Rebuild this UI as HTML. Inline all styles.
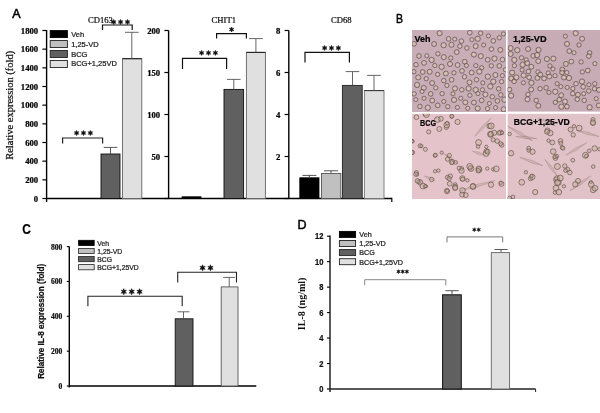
<!DOCTYPE html>
<html><head><meta charset="utf-8"><style>
html,body{margin:0;padding:0;background:#fff;width:600px;height:413px;overflow:hidden}
svg{display:block;filter:blur(0.3px)}
text{stroke:currentColor;stroke-width:0.22px}
</style></head><body>
<svg width="600" height="413" viewBox="0 0 600 413"><text x="12.3" y="18.2" font-family='"Liberation Sans", sans-serif' font-size="12.5" font-weight="normal" text-anchor="start" fill="#000" style="stroke-width:0.55px">A</text>
<line x1="46.6" y1="30.0" x2="46.6" y2="202.0" stroke="#000" stroke-width="1.4"/>
<line x1="42.4" y1="198.5" x2="46.6" y2="198.5" stroke="#000" stroke-width="1.2"/>
<text x="38.2" y="201.7" font-family='"Liberation Serif", serif' font-size="7.9" font-weight="bold" text-anchor="end" fill="#000" textLength="4.35" lengthAdjust="spacingAndGlyphs">0</text>
<line x1="42.4" y1="179.83333333333334" x2="46.6" y2="179.83333333333334" stroke="#000" stroke-width="1.2"/>
<text x="38.2" y="183.03333333333333" font-family='"Liberation Serif", serif' font-size="7.9" font-weight="bold" text-anchor="end" fill="#000" textLength="13.049999999999999" lengthAdjust="spacingAndGlyphs">200</text>
<line x1="42.4" y1="161.16666666666666" x2="46.6" y2="161.16666666666666" stroke="#000" stroke-width="1.2"/>
<text x="38.2" y="164.36666666666665" font-family='"Liberation Serif", serif' font-size="7.9" font-weight="bold" text-anchor="end" fill="#000" textLength="13.049999999999999" lengthAdjust="spacingAndGlyphs">400</text>
<line x1="42.4" y1="142.5" x2="46.6" y2="142.5" stroke="#000" stroke-width="1.2"/>
<text x="38.2" y="145.7" font-family='"Liberation Serif", serif' font-size="7.9" font-weight="bold" text-anchor="end" fill="#000" textLength="13.049999999999999" lengthAdjust="spacingAndGlyphs">600</text>
<line x1="42.4" y1="123.83333333333333" x2="46.6" y2="123.83333333333333" stroke="#000" stroke-width="1.2"/>
<text x="38.2" y="127.03333333333333" font-family='"Liberation Serif", serif' font-size="7.9" font-weight="bold" text-anchor="end" fill="#000" textLength="13.049999999999999" lengthAdjust="spacingAndGlyphs">800</text>
<line x1="42.4" y1="105.16666666666666" x2="46.6" y2="105.16666666666666" stroke="#000" stroke-width="1.2"/>
<text x="38.2" y="108.36666666666666" font-family='"Liberation Serif", serif' font-size="7.9" font-weight="bold" text-anchor="end" fill="#000" textLength="17.4" lengthAdjust="spacingAndGlyphs">1000</text>
<line x1="42.4" y1="86.5" x2="46.6" y2="86.5" stroke="#000" stroke-width="1.2"/>
<text x="38.2" y="89.7" font-family='"Liberation Serif", serif' font-size="7.9" font-weight="bold" text-anchor="end" fill="#000" textLength="17.4" lengthAdjust="spacingAndGlyphs">1200</text>
<line x1="42.4" y1="67.83333333333331" x2="46.6" y2="67.83333333333331" stroke="#000" stroke-width="1.2"/>
<text x="38.2" y="71.03333333333332" font-family='"Liberation Serif", serif' font-size="7.9" font-weight="bold" text-anchor="end" fill="#000" textLength="17.4" lengthAdjust="spacingAndGlyphs">1400</text>
<line x1="42.4" y1="49.16666666666666" x2="46.6" y2="49.16666666666666" stroke="#000" stroke-width="1.2"/>
<text x="38.2" y="52.36666666666666" font-family='"Liberation Serif", serif' font-size="7.9" font-weight="bold" text-anchor="end" fill="#000" textLength="17.4" lengthAdjust="spacingAndGlyphs">1600</text>
<line x1="42.4" y1="30.5" x2="46.6" y2="30.5" stroke="#000" stroke-width="1.2"/>
<text x="38.2" y="33.7" font-family='"Liberation Serif", serif' font-size="7.9" font-weight="bold" text-anchor="end" fill="#000" textLength="17.4" lengthAdjust="spacingAndGlyphs">1800</text>
<line x1="46.6" y1="198.5" x2="391.8" y2="198.5" stroke="#000" stroke-width="1.4"/>
<line x1="391.8" y1="197.8" x2="391.8" y2="202" stroke="#000" stroke-width="1.2"/>
<text transform="translate(12.9 159.8) rotate(-90)" font-family='"Liberation Serif", serif' font-size="11" fill="#111" textLength="109" lengthAdjust="spacingAndGlyphs">Relative expression (fold)</text>
<rect x="50.2" y="30.6" width="17.2" height="7.0" fill="#000" stroke="#000" stroke-width="0.9"/>
<text x="71.2" y="36.6" font-family='"Liberation Sans", sans-serif' font-size="7.5" font-weight="normal" text-anchor="start" fill="#333">Veh</text>
<rect x="50.2" y="40.55" width="17.2" height="7.0" fill="#c0c0c0" stroke="#222" stroke-width="0.9"/>
<text x="71.2" y="46.55" font-family='"Liberation Sans", sans-serif' font-size="7.5" font-weight="normal" text-anchor="start" fill="#333">1,25-VD</text>
<rect x="50.2" y="50.5" width="17.2" height="7.0" fill="#606060" stroke="#222" stroke-width="0.9"/>
<text x="71.2" y="56.5" font-family='"Liberation Sans", sans-serif' font-size="7.5" font-weight="normal" text-anchor="start" fill="#333">BCG</text>
<rect x="50.2" y="60.45" width="17.2" height="7.0" fill="#e0e0e0" stroke="#222" stroke-width="0.9"/>
<text x="71.2" y="66.45" font-family='"Liberation Sans", sans-serif' font-size="7.5" font-weight="normal" text-anchor="start" fill="#333">BCG+1,25VD</text>
<text x="100.5" y="22.7" font-family='"Liberation Serif", serif' font-size="8.6" font-weight="normal" text-anchor="middle" fill="#111">CD163</text>
<rect x="101" y="154" width="19" height="44.5" fill="#606060" stroke="#111" stroke-width="0.9"/>
<line x1="110.5" y1="154" x2="110.5" y2="147.4" stroke="#444" stroke-width="0.9"/>
<line x1="103.7" y1="147.4" x2="117.3" y2="147.4" stroke="#444" stroke-width="0.9"/>
<rect x="122.5" y="58.7" width="19.30000000000001" height="139.8" fill="#e0e0e0" stroke="#666" stroke-width="0.9"/>
<line x1="122.5" y1="58.7" x2="141.8" y2="58.7" stroke="#222" stroke-width="1.1"/>
<line x1="131.8" y1="58.7" x2="131.8" y2="32.3" stroke="#555" stroke-width="0.9"/>
<line x1="125.00000000000001" y1="32.3" x2="138.60000000000002" y2="32.3" stroke="#555" stroke-width="0.9"/>
<path d="M62.6 143.6 V138 H102.6 V143.6" fill="none" stroke="#222" stroke-width="1.2"/>
<polygon points="76.60,130.50 77.16,132.03 78.77,131.75 77.72,133.00 78.77,134.25 77.16,133.97 76.60,135.50 76.04,133.97 74.43,134.25 75.47,133.00 74.43,131.75 76.04,132.03" fill="#111" stroke="#111" stroke-width="0.65" stroke-linejoin="round"/>
<polygon points="83.50,130.50 84.06,132.03 85.67,131.75 84.62,133.00 85.67,134.25 84.06,133.97 83.50,135.50 82.94,133.97 81.33,134.25 82.38,133.00 81.33,131.75 82.94,132.03" fill="#111" stroke="#111" stroke-width="0.65" stroke-linejoin="round"/>
<polygon points="90.40,130.50 90.96,132.03 92.57,131.75 91.53,133.00 92.57,134.25 90.96,133.97 90.40,135.50 89.84,133.97 88.23,134.25 89.28,133.00 88.23,131.75 89.84,132.03" fill="#111" stroke="#111" stroke-width="0.65" stroke-linejoin="round"/>
<path d="M102.5 30 V25 H132.2 V30" fill="none" stroke="#111" stroke-width="1.2"/>
<polygon points="113.70,19.50 114.26,21.03 115.87,20.75 114.82,22.00 115.87,23.25 114.26,22.97 113.70,24.50 113.14,22.97 111.53,23.25 112.57,22.00 111.53,20.75 113.14,21.03" fill="#111" stroke="#111" stroke-width="0.65" stroke-linejoin="round"/>
<polygon points="120.60,19.50 121.16,21.03 122.77,20.75 121.72,22.00 122.77,23.25 121.16,22.97 120.60,24.50 120.04,22.97 118.43,23.25 119.47,22.00 118.43,20.75 120.04,21.03" fill="#111" stroke="#111" stroke-width="0.65" stroke-linejoin="round"/>
<polygon points="127.50,19.50 128.06,21.03 129.67,20.75 128.62,22.00 129.67,23.25 128.06,22.97 127.50,24.50 126.94,22.97 125.33,23.25 126.38,22.00 125.33,20.75 126.94,21.03" fill="#111" stroke="#111" stroke-width="0.65" stroke-linejoin="round"/>
<line x1="168.6" y1="30.5" x2="168.6" y2="198.5" stroke="#000" stroke-width="1.4"/>
<line x1="164.4" y1="198.5" x2="168.6" y2="198.5" stroke="#000" stroke-width="1.2"/>
<line x1="164.4" y1="156.5" x2="168.6" y2="156.5" stroke="#000" stroke-width="1.2"/>
<text x="160.2" y="159.7" font-family='"Liberation Serif", serif' font-size="7.9" font-weight="bold" text-anchor="end" fill="#000" textLength="8.7" lengthAdjust="spacingAndGlyphs">50</text>
<line x1="164.4" y1="114.5" x2="168.6" y2="114.5" stroke="#000" stroke-width="1.2"/>
<text x="160.2" y="117.7" font-family='"Liberation Serif", serif' font-size="7.9" font-weight="bold" text-anchor="end" fill="#000" textLength="13.049999999999999" lengthAdjust="spacingAndGlyphs">100</text>
<line x1="164.4" y1="72.5" x2="168.6" y2="72.5" stroke="#000" stroke-width="1.2"/>
<text x="160.2" y="75.7" font-family='"Liberation Serif", serif' font-size="7.9" font-weight="bold" text-anchor="end" fill="#000" textLength="13.049999999999999" lengthAdjust="spacingAndGlyphs">150</text>
<line x1="164.4" y1="30.5" x2="168.6" y2="30.5" stroke="#000" stroke-width="1.2"/>
<text x="160.2" y="33.7" font-family='"Liberation Serif", serif' font-size="7.9" font-weight="bold" text-anchor="end" fill="#000" textLength="13.049999999999999" lengthAdjust="spacingAndGlyphs">200</text>
<text x="223.8" y="23" font-family='"Liberation Serif", serif' font-size="8.6" font-weight="normal" text-anchor="middle" fill="#111">CHIT1</text>
<rect x="182" y="196.8" width="19" height="1.6999999999999886" fill="#000" stroke="#000" stroke-width="0.8"/>
<rect x="224" y="89.4" width="19.599999999999994" height="109.1" fill="#606060" stroke="#111" stroke-width="0.9"/>
<line x1="233.8" y1="89.4" x2="233.8" y2="79.4" stroke="#555" stroke-width="0.9"/>
<line x1="227.0" y1="79.4" x2="240.60000000000002" y2="79.4" stroke="#555" stroke-width="0.9"/>
<rect x="246.4" y="52.4" width="18.99999999999997" height="146.1" fill="#e0e0e0" stroke="#666" stroke-width="0.9"/>
<line x1="246.4" y1="52.4" x2="265.4" y2="52.4" stroke="#222" stroke-width="1.1"/>
<line x1="255.9" y1="52.4" x2="255.9" y2="38.6" stroke="#555" stroke-width="0.9"/>
<line x1="249.1" y1="38.6" x2="262.7" y2="38.6" stroke="#555" stroke-width="0.9"/>
<path d="M216.6 38.6 V33.6 H246.4 V38.6" fill="none" stroke="#111" stroke-width="1.2"/>
<polygon points="231.60,27.00 232.16,28.53 233.77,28.25 232.72,29.50 233.77,30.75 232.16,30.47 231.60,32.00 231.04,30.47 229.43,30.75 230.47,29.50 229.43,28.25 231.04,28.53" fill="#111" stroke="#111" stroke-width="0.65" stroke-linejoin="round"/>
<path d="M182.5 69 V58.4 H226.6 V69" fill="none" stroke="#111" stroke-width="1.2"/>
<polygon points="201.60,50.40 202.16,51.93 203.77,51.65 202.72,52.90 203.77,54.15 202.16,53.87 201.60,55.40 201.04,53.87 199.43,54.15 200.47,52.90 199.43,51.65 201.04,51.93" fill="#111" stroke="#111" stroke-width="0.65" stroke-linejoin="round"/>
<polygon points="208.50,50.40 209.06,51.93 210.67,51.65 209.62,52.90 210.67,54.15 209.06,53.87 208.50,55.40 207.94,53.87 206.33,54.15 207.38,52.90 206.33,51.65 207.94,51.93" fill="#111" stroke="#111" stroke-width="0.65" stroke-linejoin="round"/>
<polygon points="215.40,50.40 215.96,51.93 217.57,51.65 216.53,52.90 217.57,54.15 215.96,53.87 215.40,55.40 214.84,53.87 213.23,54.15 214.28,52.90 213.23,51.65 214.84,51.93" fill="#111" stroke="#111" stroke-width="0.65" stroke-linejoin="round"/>
<line x1="288.8" y1="30.5" x2="288.8" y2="198.5" stroke="#000" stroke-width="1.4"/>
<line x1="284.6" y1="198.5" x2="288.8" y2="198.5" stroke="#000" stroke-width="1.2"/>
<line x1="284.6" y1="156.5" x2="288.8" y2="156.5" stroke="#000" stroke-width="1.2"/>
<text x="280.4" y="159.7" font-family='"Liberation Serif", serif' font-size="7.9" font-weight="bold" text-anchor="end" fill="#000" textLength="4.35" lengthAdjust="spacingAndGlyphs">2</text>
<line x1="284.6" y1="114.5" x2="288.8" y2="114.5" stroke="#000" stroke-width="1.2"/>
<text x="280.4" y="117.7" font-family='"Liberation Serif", serif' font-size="7.9" font-weight="bold" text-anchor="end" fill="#000" textLength="4.35" lengthAdjust="spacingAndGlyphs">4</text>
<line x1="284.6" y1="72.5" x2="288.8" y2="72.5" stroke="#000" stroke-width="1.2"/>
<text x="280.4" y="75.7" font-family='"Liberation Serif", serif' font-size="7.9" font-weight="bold" text-anchor="end" fill="#000" textLength="4.35" lengthAdjust="spacingAndGlyphs">6</text>
<line x1="284.6" y1="30.5" x2="288.8" y2="30.5" stroke="#000" stroke-width="1.2"/>
<text x="280.4" y="33.7" font-family='"Liberation Serif", serif' font-size="7.9" font-weight="bold" text-anchor="end" fill="#000" textLength="4.35" lengthAdjust="spacingAndGlyphs">8</text>
<text x="341.3" y="23" font-family='"Liberation Serif", serif' font-size="8.6" font-weight="normal" text-anchor="middle" fill="#111">CD68</text>
<rect x="299.8" y="177.8" width="19.19999999999999" height="20.69999999999999" fill="#000" stroke="#000" stroke-width="0.8"/>
<line x1="309.4" y1="177.4" x2="309.4" y2="175.4" stroke="#444" stroke-width="0.9"/>
<line x1="302.4" y1="175.4" x2="316.4" y2="175.4" stroke="#444" stroke-width="0.9"/>
<rect x="321.5" y="173.5" width="19.30000000000001" height="25.0" fill="#c0c0c0" stroke="#555" stroke-width="0.9"/>
<line x1="331" y1="173" x2="331" y2="170.8" stroke="#444" stroke-width="0.9"/>
<line x1="324" y1="170.8" x2="338" y2="170.8" stroke="#444" stroke-width="0.9"/>
<rect x="342.4" y="85.4" width="19.80000000000001" height="113.1" fill="#606060" stroke="#222" stroke-width="0.9"/>
<line x1="352.5" y1="85.4" x2="352.5" y2="71.6" stroke="#555" stroke-width="0.9"/>
<line x1="345.7" y1="71.6" x2="359.3" y2="71.6" stroke="#555" stroke-width="0.9"/>
<rect x="364.4" y="90.6" width="19.600000000000023" height="107.9" fill="#e0e0e0" stroke="#777" stroke-width="0.9"/>
<line x1="364.4" y1="90.6" x2="384" y2="90.6" stroke="#333" stroke-width="1.0"/>
<line x1="374" y1="90.6" x2="374" y2="75.4" stroke="#555" stroke-width="0.9"/>
<line x1="367.2" y1="75.4" x2="380.8" y2="75.4" stroke="#555" stroke-width="0.9"/>
<path d="M305 62.6 V52.4 H349.4 V62.6" fill="none" stroke="#111" stroke-width="1.2"/>
<polygon points="324.60,45.50 325.16,47.03 326.77,46.75 325.73,48.00 326.77,49.25 325.16,48.97 324.60,50.50 324.04,48.97 322.43,49.25 323.48,48.00 322.43,46.75 324.04,47.03" fill="#111" stroke="#111" stroke-width="0.65" stroke-linejoin="round"/>
<polygon points="331.50,45.50 332.06,47.03 333.67,46.75 332.62,48.00 333.67,49.25 332.06,48.97 331.50,50.50 330.94,48.97 329.33,49.25 330.38,48.00 329.33,46.75 330.94,47.03" fill="#111" stroke="#111" stroke-width="0.65" stroke-linejoin="round"/>
<polygon points="338.40,45.50 338.96,47.03 340.57,46.75 339.52,48.00 340.57,49.25 338.96,48.97 338.40,50.50 337.84,48.97 336.23,49.25 337.27,48.00 336.23,46.75 337.84,47.03" fill="#111" stroke="#111" stroke-width="0.65" stroke-linejoin="round"/>
<text x="22.2" y="234.0" font-family='"Liberation Sans", sans-serif' font-size="14" font-weight="bold" text-anchor="start" fill="#000" textLength="8.6" lengthAdjust="spacingAndGlyphs">C</text>
<line x1="69.3" y1="246.5" x2="69.3" y2="387.5" stroke="#000" stroke-width="1.4"/>
<line x1="66.8" y1="386.0" x2="69.3" y2="386.0" stroke="#000" stroke-width="1.1"/>
<text x="62.4" y="388.9" font-family='"Liberation Serif", serif' font-size="8.4" font-weight="bold" text-anchor="end" fill="#111" textLength="3.8" lengthAdjust="spacingAndGlyphs">0</text>
<line x1="66.8" y1="351.15" x2="69.3" y2="351.15" stroke="#000" stroke-width="1.1"/>
<text x="62.4" y="354.04999999999995" font-family='"Liberation Serif", serif' font-size="8.4" font-weight="bold" text-anchor="end" fill="#111" textLength="11.399999999999999" lengthAdjust="spacingAndGlyphs">200</text>
<line x1="66.8" y1="316.3" x2="69.3" y2="316.3" stroke="#000" stroke-width="1.1"/>
<text x="62.4" y="319.2" font-family='"Liberation Serif", serif' font-size="8.4" font-weight="bold" text-anchor="end" fill="#111" textLength="11.399999999999999" lengthAdjust="spacingAndGlyphs">400</text>
<line x1="66.8" y1="281.45" x2="69.3" y2="281.45" stroke="#000" stroke-width="1.1"/>
<text x="62.4" y="284.34999999999997" font-family='"Liberation Serif", serif' font-size="8.4" font-weight="bold" text-anchor="end" fill="#111" textLength="11.399999999999999" lengthAdjust="spacingAndGlyphs">600</text>
<line x1="66.8" y1="246.6" x2="69.3" y2="246.6" stroke="#000" stroke-width="1.1"/>
<text x="62.4" y="249.5" font-family='"Liberation Serif", serif' font-size="8.4" font-weight="bold" text-anchor="end" fill="#111" textLength="11.399999999999999" lengthAdjust="spacingAndGlyphs">800</text>
<line x1="69.3" y1="386.0" x2="256.3" y2="386.0" stroke="#000" stroke-width="1.4"/>
<text transform="translate(44.0 378.8) rotate(-90)" font-family='"Liberation Sans", sans-serif' font-size="9.4" font-weight="bold" fill="#111" textLength="115" lengthAdjust="spacingAndGlyphs">Relative  IL-8 expression (fold)</text>
<rect x="78.6" y="240.29999999999998" width="15.6" height="5.2" fill="#000" stroke="#000" stroke-width="0.8"/>
<text x="97.3" y="245.6" font-family='"Liberation Sans", sans-serif' font-size="6.8" font-weight="normal" text-anchor="start" fill="#333">Veh</text>
<rect x="78.6" y="248.39999999999998" width="15.6" height="5.2" fill="#c0c0c0" stroke="#222" stroke-width="0.8"/>
<text x="97.3" y="253.7" font-family='"Liberation Sans", sans-serif' font-size="6.8" font-weight="normal" text-anchor="start" fill="#333">1,25-VD</text>
<rect x="78.6" y="256.5" width="15.6" height="5.2" fill="#606060" stroke="#222" stroke-width="0.8"/>
<text x="97.3" y="261.79999999999995" font-family='"Liberation Sans", sans-serif' font-size="6.8" font-weight="normal" text-anchor="start" fill="#333">BCG</text>
<rect x="78.6" y="264.6" width="15.6" height="5.2" fill="#e0e0e0" stroke="#222" stroke-width="0.8"/>
<text x="97.3" y="269.9" font-family='"Liberation Sans", sans-serif' font-size="6.8" font-weight="normal" text-anchor="start" fill="#333">BCG+1,25VD</text>
<rect x="175.2" y="318.8" width="17.80000000000001" height="67.19999999999999" fill="#606060" stroke="#111" stroke-width="0.9"/>
<line x1="183.5" y1="318.8" x2="183.5" y2="311.8" stroke="#555" stroke-width="0.9"/>
<line x1="177.5" y1="311.8" x2="189.5" y2="311.8" stroke="#555" stroke-width="0.9"/>
<rect x="221.2" y="286.9" width="16.80000000000001" height="99.10000000000002" fill="#e0e0e0" stroke="#555" stroke-width="0.9"/>
<line x1="229.2" y1="286.9" x2="229.2" y2="277.4" stroke="#555" stroke-width="0.9"/>
<line x1="223.2" y1="277.4" x2="235.2" y2="277.4" stroke="#555" stroke-width="0.9"/>
<path d="M87.9 306.2 V296.3 H182.2 V306.2" fill="none" stroke="#222" stroke-width="1.1"/>
<polygon points="123.80,288.70 124.47,290.53 126.40,290.20 125.15,291.70 126.40,293.20 124.47,292.87 123.80,294.70 123.12,292.87 121.20,293.20 122.45,291.70 121.20,290.20 123.12,290.53" fill="#111" stroke="#111" stroke-width="0.65" stroke-linejoin="round"/>
<polygon points="131.70,288.70 132.38,290.53 134.30,290.20 133.05,291.70 134.30,293.20 132.38,292.87 131.70,294.70 131.02,292.87 129.10,293.20 130.35,291.70 129.10,290.20 131.02,290.53" fill="#111" stroke="#111" stroke-width="0.65" stroke-linejoin="round"/>
<polygon points="139.60,288.70 140.28,290.53 142.20,290.20 140.95,291.70 142.20,293.20 140.28,292.87 139.60,294.70 138.92,292.87 137.00,293.20 138.25,291.70 137.00,290.20 138.92,290.53" fill="#111" stroke="#111" stroke-width="0.65" stroke-linejoin="round"/>
<path d="M177.7 282.5 V272.3 H236.5 V282.5" fill="none" stroke="#222" stroke-width="1.1"/>
<polygon points="202.55,264.80 203.23,266.63 205.15,266.30 203.90,267.80 205.15,269.30 203.23,268.97 202.55,270.80 201.88,268.97 199.95,269.30 201.20,267.80 199.95,266.30 201.88,266.63" fill="#111" stroke="#111" stroke-width="0.65" stroke-linejoin="round"/>
<polygon points="210.45,264.80 211.12,266.63 213.05,266.30 211.80,267.80 213.05,269.30 211.12,268.97 210.45,270.80 209.77,268.97 207.85,269.30 209.10,267.80 207.85,266.30 209.77,266.63" fill="#111" stroke="#111" stroke-width="0.65" stroke-linejoin="round"/>
<text x="297.5" y="229.0" font-family='"Liberation Sans", sans-serif' font-size="12.5" font-weight="normal" text-anchor="start" fill="#000" style="stroke-width:0.5px">D</text>
<line x1="330.0" y1="235.6" x2="330.0" y2="392.0" stroke="#000" stroke-width="1.3"/>
<line x1="327.0" y1="389.0" x2="330.0" y2="389.0" stroke="#000" stroke-width="1.1"/>
<text x="323.4" y="392.2" font-family='"Liberation Sans", sans-serif' font-size="8.8" font-weight="bold" text-anchor="end" fill="#111" textLength="4.2" lengthAdjust="spacingAndGlyphs">0</text>
<line x1="327.0" y1="363.53" x2="330.0" y2="363.53" stroke="#000" stroke-width="1.1"/>
<text x="323.4" y="366.72999999999996" font-family='"Liberation Sans", sans-serif' font-size="8.8" font-weight="bold" text-anchor="end" fill="#111" textLength="4.2" lengthAdjust="spacingAndGlyphs">2</text>
<line x1="327.0" y1="338.06" x2="330.0" y2="338.06" stroke="#000" stroke-width="1.1"/>
<text x="323.4" y="341.26" font-family='"Liberation Sans", sans-serif' font-size="8.8" font-weight="bold" text-anchor="end" fill="#111" textLength="4.2" lengthAdjust="spacingAndGlyphs">4</text>
<line x1="327.0" y1="312.59000000000003" x2="330.0" y2="312.59000000000003" stroke="#000" stroke-width="1.1"/>
<text x="323.4" y="315.79" font-family='"Liberation Sans", sans-serif' font-size="8.8" font-weight="bold" text-anchor="end" fill="#111" textLength="4.2" lengthAdjust="spacingAndGlyphs">6</text>
<line x1="327.0" y1="287.12" x2="330.0" y2="287.12" stroke="#000" stroke-width="1.1"/>
<text x="323.4" y="290.32" font-family='"Liberation Sans", sans-serif' font-size="8.8" font-weight="bold" text-anchor="end" fill="#111" textLength="4.2" lengthAdjust="spacingAndGlyphs">8</text>
<line x1="327.0" y1="261.65" x2="330.0" y2="261.65" stroke="#000" stroke-width="1.1"/>
<text x="323.4" y="264.84999999999997" font-family='"Liberation Sans", sans-serif' font-size="8.8" font-weight="bold" text-anchor="end" fill="#111" textLength="8.4" lengthAdjust="spacingAndGlyphs">10</text>
<line x1="327.0" y1="236.18" x2="330.0" y2="236.18" stroke="#000" stroke-width="1.1"/>
<text x="323.4" y="239.38" font-family='"Liberation Sans", sans-serif' font-size="8.8" font-weight="bold" text-anchor="end" fill="#111" textLength="8.4" lengthAdjust="spacingAndGlyphs">12</text>
<line x1="330.0" y1="389.0" x2="535.6" y2="389.0" stroke="#222" stroke-width="1.3"/>
<line x1="535.6" y1="389.0" x2="535.6" y2="392" stroke="#222" stroke-width="1"/>
<text transform="translate(304.7 330.2) rotate(-90)" font-family='"Liberation Serif", serif' font-size="9.4" font-weight="bold" fill="#111" style="stroke-width:0" textLength="52.6" lengthAdjust="spacingAndGlyphs">IL-8 (ng/ml)</text>
<rect x="339.4" y="231.39999999999998" width="16.2" height="6.0" fill="#000" stroke="#000" stroke-width="0.9"/>
<text x="359.3" y="237.2" font-family='"Liberation Sans", sans-serif' font-size="7.2" font-weight="normal" text-anchor="start" fill="#333">Veh</text>
<rect x="339.4" y="240.49999999999997" width="16.2" height="6.0" fill="#c0c0c0" stroke="#222" stroke-width="0.9"/>
<text x="359.3" y="246.29999999999998" font-family='"Liberation Sans", sans-serif' font-size="7.2" font-weight="normal" text-anchor="start" fill="#333">1,25-VD</text>
<rect x="339.4" y="249.59999999999997" width="16.2" height="6.0" fill="#606060" stroke="#222" stroke-width="0.9"/>
<text x="359.3" y="255.39999999999998" font-family='"Liberation Sans", sans-serif' font-size="7.2" font-weight="normal" text-anchor="start" fill="#333">BCG</text>
<rect x="339.4" y="258.7" width="16.2" height="6.0" fill="#e0e0e0" stroke="#222" stroke-width="0.9"/>
<text x="359.3" y="264.5" font-family='"Liberation Sans", sans-serif' font-size="7.2" font-weight="normal" text-anchor="start" fill="#333">BCG+1,25VD</text>
<rect x="442.6" y="294.8" width="18.69999999999999" height="94.19999999999999" fill="#606060" stroke="#111" stroke-width="1"/>
<line x1="452" y1="294.2" x2="452" y2="290.7" stroke="#444" stroke-width="0.9"/>
<line x1="445.4" y1="290.7" x2="458.6" y2="290.7" stroke="#444" stroke-width="0.9"/>
<rect x="491.3" y="252.6" width="18.30000000000001" height="136.4" fill="#e0e0e0" stroke="#666" stroke-width="0.9"/>
<line x1="501" y1="252" x2="501" y2="249.5" stroke="#444" stroke-width="0.9"/>
<line x1="494.5" y1="249.5" x2="507.5" y2="249.5" stroke="#444" stroke-width="0.9"/>
<path d="M364.7 285.3 V279.7 H445.8 V285.3" fill="none" stroke="#888" stroke-width="1"/>
<polygon points="398.50,269.60 398.95,270.82 400.23,270.60 399.40,271.60 400.23,272.60 398.95,272.38 398.50,273.60 398.05,272.38 396.77,272.60 397.60,271.60 396.77,270.60 398.05,270.82" fill="#111" stroke="#111" stroke-width="0.50" stroke-linejoin="round"/>
<polygon points="402.70,269.60 403.15,270.82 404.43,270.60 403.60,271.60 404.43,272.60 403.15,272.38 402.70,273.60 402.25,272.38 400.97,272.60 401.80,271.60 400.97,270.60 402.25,270.82" fill="#111" stroke="#111" stroke-width="0.50" stroke-linejoin="round"/>
<polygon points="406.90,269.60 407.35,270.82 408.63,270.60 407.80,271.60 408.63,272.60 407.35,272.38 406.90,273.60 406.45,272.38 405.17,272.60 406.00,271.60 405.17,270.60 406.45,270.82" fill="#111" stroke="#111" stroke-width="0.50" stroke-linejoin="round"/>
<path d="M447 242.3 V236.9 H502.7 V242.3" fill="none" stroke="#777" stroke-width="1"/>
<polygon points="474.30,227.70 474.75,228.92 476.03,228.70 475.20,229.70 476.03,230.70 474.75,230.48 474.30,231.70 473.85,230.48 472.57,230.70 473.40,229.70 472.57,228.70 473.85,228.92" fill="#111" stroke="#111" stroke-width="0.50" stroke-linejoin="round"/>
<polygon points="478.70,227.70 479.15,228.92 480.43,228.70 479.60,229.70 480.43,230.70 479.15,230.48 478.70,231.70 478.25,230.48 476.97,230.70 477.80,229.70 476.97,228.70 478.25,228.92" fill="#111" stroke="#111" stroke-width="0.50" stroke-linejoin="round"/>
<text x="396.0" y="23" font-family='"Liberation Sans", sans-serif' font-size="13" font-weight="normal" text-anchor="start" fill="#000" textLength="7" lengthAdjust="spacingAndGlyphs" style="stroke-width:0.5px">B</text>
<defs><filter id="blur" x="-5%" y="-5%" width="110%" height="110%"><feGaussianBlur stdDeviation="0.6"/></filter><radialGradient id="cellg"><stop offset="0" stop-color="#e4d6b6" stop-opacity="0.85"/><stop offset="0.55" stop-color="#d2c0a8" stop-opacity="0.55"/><stop offset="1" stop-color="#9a8088" stop-opacity="0.3"/></radialGradient></defs>
<clipPath id="c1"><rect x="412" y="30" width="94" height="82"/></clipPath>
<g clip-path="url(#c1)">
<rect x="412" y="30" width="94" height="82" fill="#c9aeb7"/>
<g filter="url(#blur)">
<circle cx="439.6" cy="33.2" r="2.6" fill="url(#cellg)" stroke="#5a4848" stroke-opacity="0.6" stroke-width="1.0"/>
<circle cx="448.6" cy="38.9" r="2.4" fill="url(#cellg)" stroke="#5a4848" stroke-opacity="0.6" stroke-width="1.0"/>
<circle cx="454.8" cy="39.1" r="2.1" fill="url(#cellg)" stroke="#5a4848" stroke-opacity="0.6" stroke-width="1.0"/>
<circle cx="461.4" cy="41.1" r="2.4" fill="url(#cellg)" stroke="#5a4848" stroke-opacity="0.6" stroke-width="1.0"/>
<circle cx="469.8" cy="32.7" r="2.4" fill="url(#cellg)" stroke="#5a4848" stroke-opacity="0.6" stroke-width="1.0"/>
<circle cx="477.7" cy="38.8" r="2.7" fill="url(#cellg)" stroke="#5a4848" stroke-opacity="0.6" stroke-width="1.0"/>
<circle cx="471.9" cy="39.7" r="2.1" fill="url(#cellg)" stroke="#5a4848" stroke-opacity="0.6" stroke-width="1.0"/>
<circle cx="480.6" cy="33.2" r="2.3" fill="url(#cellg)" stroke="#5a4848" stroke-opacity="0.6" stroke-width="1.0"/>
<circle cx="488.4" cy="35.9" r="2.1" fill="url(#cellg)" stroke="#5a4848" stroke-opacity="0.6" stroke-width="1.0"/>
<circle cx="493.3" cy="40.9" r="2.4" fill="url(#cellg)" stroke="#5a4848" stroke-opacity="0.6" stroke-width="1.0"/>
<circle cx="499.3" cy="37.8" r="2.2" fill="url(#cellg)" stroke="#5a4848" stroke-opacity="0.6" stroke-width="1.0"/>
<circle cx="503.4" cy="33.9" r="2.1" fill="url(#cellg)" stroke="#5a4848" stroke-opacity="0.6" stroke-width="1.0"/>
<circle cx="434.1" cy="44.0" r="2.5" fill="url(#cellg)" stroke="#5a4848" stroke-opacity="0.6" stroke-width="1.0"/>
<circle cx="443.6" cy="45.2" r="2.7" fill="url(#cellg)" stroke="#5a4848" stroke-opacity="0.6" stroke-width="1.0"/>
<circle cx="451.5" cy="44.8" r="2.6" fill="url(#cellg)" stroke="#5a4848" stroke-opacity="0.6" stroke-width="1.0"/>
<circle cx="459.8" cy="46.2" r="2.3" fill="url(#cellg)" stroke="#5a4848" stroke-opacity="0.6" stroke-width="1.0"/>
<circle cx="466.9" cy="48.0" r="2.3" fill="url(#cellg)" stroke="#5a4848" stroke-opacity="0.6" stroke-width="1.0"/>
<circle cx="475.7" cy="46.1" r="2.6" fill="url(#cellg)" stroke="#5a4848" stroke-opacity="0.6" stroke-width="1.0"/>
<circle cx="483.6" cy="45.0" r="2.1" fill="url(#cellg)" stroke="#5a4848" stroke-opacity="0.6" stroke-width="1.0"/>
<circle cx="491.4" cy="49.1" r="2.3" fill="url(#cellg)" stroke="#5a4848" stroke-opacity="0.6" stroke-width="1.0"/>
<circle cx="500.3" cy="49.9" r="2.5" fill="url(#cellg)" stroke="#5a4848" stroke-opacity="0.6" stroke-width="1.0"/>
<circle cx="414.1" cy="43.8" r="2.4" fill="url(#cellg)" stroke="#5a4848" stroke-opacity="0.6" stroke-width="1.0"/>
<circle cx="419.0" cy="56.0" r="2.4" fill="url(#cellg)" stroke="#5a4848" stroke-opacity="0.6" stroke-width="1.0"/>
<circle cx="426.8" cy="55.8" r="2.1" fill="url(#cellg)" stroke="#5a4848" stroke-opacity="0.6" stroke-width="1.0"/>
<circle cx="431.6" cy="59.9" r="2.7" fill="url(#cellg)" stroke="#5a4848" stroke-opacity="0.6" stroke-width="1.0"/>
<circle cx="437.9" cy="53.8" r="2.2" fill="url(#cellg)" stroke="#5a4848" stroke-opacity="0.6" stroke-width="1.0"/>
<circle cx="443.8" cy="57.1" r="2.6" fill="url(#cellg)" stroke="#5a4848" stroke-opacity="0.6" stroke-width="1.0"/>
<circle cx="450.8" cy="58.0" r="2.2" fill="url(#cellg)" stroke="#5a4848" stroke-opacity="0.6" stroke-width="1.0"/>
<circle cx="456.7" cy="52.1" r="2.5" fill="url(#cellg)" stroke="#5a4848" stroke-opacity="0.6" stroke-width="1.0"/>
<circle cx="464.7" cy="61.7" r="2.4" fill="url(#cellg)" stroke="#5a4848" stroke-opacity="0.6" stroke-width="1.0"/>
<circle cx="473.9" cy="54.6" r="2.6" fill="url(#cellg)" stroke="#5a4848" stroke-opacity="0.6" stroke-width="1.0"/>
<circle cx="480.8" cy="56.1" r="2.6" fill="url(#cellg)" stroke="#5a4848" stroke-opacity="0.6" stroke-width="1.0"/>
<circle cx="487.7" cy="59.8" r="2.4" fill="url(#cellg)" stroke="#5a4848" stroke-opacity="0.6" stroke-width="1.0"/>
<circle cx="494.5" cy="58.6" r="2.7" fill="url(#cellg)" stroke="#5a4848" stroke-opacity="0.6" stroke-width="1.0"/>
<circle cx="502.5" cy="59.6" r="2.4" fill="url(#cellg)" stroke="#5a4848" stroke-opacity="0.6" stroke-width="1.0"/>
<circle cx="416.0" cy="64.7" r="2.3" fill="url(#cellg)" stroke="#5a4848" stroke-opacity="0.6" stroke-width="1.0"/>
<circle cx="424.0" cy="62.9" r="2.5" fill="url(#cellg)" stroke="#5a4848" stroke-opacity="0.6" stroke-width="1.0"/>
<circle cx="434.8" cy="65.5" r="2.2" fill="url(#cellg)" stroke="#5a4848" stroke-opacity="0.6" stroke-width="1.0"/>
<circle cx="441.6" cy="66.8" r="2.7" fill="url(#cellg)" stroke="#5a4848" stroke-opacity="0.6" stroke-width="1.0"/>
<circle cx="450.0" cy="64.0" r="2.6" fill="url(#cellg)" stroke="#5a4848" stroke-opacity="0.6" stroke-width="1.0"/>
<circle cx="457.6" cy="65.0" r="2.5" fill="url(#cellg)" stroke="#5a4848" stroke-opacity="0.6" stroke-width="1.0"/>
<circle cx="466.4" cy="65.5" r="2.1" fill="url(#cellg)" stroke="#5a4848" stroke-opacity="0.6" stroke-width="1.0"/>
<circle cx="475.8" cy="65.6" r="2.1" fill="url(#cellg)" stroke="#5a4848" stroke-opacity="0.6" stroke-width="1.0"/>
<circle cx="481.7" cy="67.7" r="2.1" fill="url(#cellg)" stroke="#5a4848" stroke-opacity="0.6" stroke-width="1.0"/>
<circle cx="491.3" cy="65.8" r="2.2" fill="url(#cellg)" stroke="#5a4848" stroke-opacity="0.6" stroke-width="1.0"/>
<circle cx="499.3" cy="65.9" r="2.4" fill="url(#cellg)" stroke="#5a4848" stroke-opacity="0.6" stroke-width="1.0"/>
<circle cx="505.3" cy="69.7" r="2.1" fill="url(#cellg)" stroke="#5a4848" stroke-opacity="0.6" stroke-width="1.0"/>
<circle cx="413.9" cy="71.7" r="2.2" fill="url(#cellg)" stroke="#5a4848" stroke-opacity="0.6" stroke-width="1.0"/>
<circle cx="422.7" cy="72.0" r="2.4" fill="url(#cellg)" stroke="#5a4848" stroke-opacity="0.6" stroke-width="1.0"/>
<circle cx="429.7" cy="71.8" r="2.6" fill="url(#cellg)" stroke="#5a4848" stroke-opacity="0.6" stroke-width="1.0"/>
<circle cx="437.6" cy="74.4" r="2.2" fill="url(#cellg)" stroke="#5a4848" stroke-opacity="0.6" stroke-width="1.0"/>
<circle cx="445.9" cy="73.5" r="2.5" fill="url(#cellg)" stroke="#5a4848" stroke-opacity="0.6" stroke-width="1.0"/>
<circle cx="453.9" cy="72.8" r="2.2" fill="url(#cellg)" stroke="#5a4848" stroke-opacity="0.6" stroke-width="1.0"/>
<circle cx="462.0" cy="70.9" r="2.4" fill="url(#cellg)" stroke="#5a4848" stroke-opacity="0.6" stroke-width="1.0"/>
<circle cx="464.5" cy="76.8" r="2.3" fill="url(#cellg)" stroke="#5a4848" stroke-opacity="0.6" stroke-width="1.0"/>
<circle cx="471.7" cy="72.6" r="2.5" fill="url(#cellg)" stroke="#5a4848" stroke-opacity="0.6" stroke-width="1.0"/>
<circle cx="479.3" cy="71.6" r="2.7" fill="url(#cellg)" stroke="#5a4848" stroke-opacity="0.6" stroke-width="1.0"/>
<circle cx="487.8" cy="76.6" r="2.7" fill="url(#cellg)" stroke="#5a4848" stroke-opacity="0.6" stroke-width="1.0"/>
<circle cx="495.4" cy="75.0" r="2.6" fill="url(#cellg)" stroke="#5a4848" stroke-opacity="0.6" stroke-width="1.0"/>
<circle cx="502.4" cy="75.6" r="2.1" fill="url(#cellg)" stroke="#5a4848" stroke-opacity="0.6" stroke-width="1.0"/>
<circle cx="418.2" cy="77.4" r="2.6" fill="url(#cellg)" stroke="#5a4848" stroke-opacity="0.6" stroke-width="1.0"/>
<circle cx="426.2" cy="78.7" r="2.2" fill="url(#cellg)" stroke="#5a4848" stroke-opacity="0.6" stroke-width="1.0"/>
<circle cx="432.1" cy="83.0" r="2.5" fill="url(#cellg)" stroke="#5a4848" stroke-opacity="0.6" stroke-width="1.0"/>
<circle cx="443.8" cy="80.6" r="2.3" fill="url(#cellg)" stroke="#5a4848" stroke-opacity="0.6" stroke-width="1.0"/>
<circle cx="451.6" cy="79.8" r="2.4" fill="url(#cellg)" stroke="#5a4848" stroke-opacity="0.6" stroke-width="1.0"/>
<circle cx="469.5" cy="82.4" r="2.5" fill="url(#cellg)" stroke="#5a4848" stroke-opacity="0.6" stroke-width="1.0"/>
<circle cx="476.5" cy="79.7" r="2.3" fill="url(#cellg)" stroke="#5a4848" stroke-opacity="0.6" stroke-width="1.0"/>
<circle cx="482.8" cy="82.9" r="2.1" fill="url(#cellg)" stroke="#5a4848" stroke-opacity="0.6" stroke-width="1.0"/>
<circle cx="493.3" cy="81.6" r="2.7" fill="url(#cellg)" stroke="#5a4848" stroke-opacity="0.6" stroke-width="1.0"/>
<circle cx="501.6" cy="81.6" r="2.2" fill="url(#cellg)" stroke="#5a4848" stroke-opacity="0.6" stroke-width="1.0"/>
<circle cx="417.1" cy="84.9" r="2.7" fill="url(#cellg)" stroke="#5a4848" stroke-opacity="0.6" stroke-width="1.0"/>
<circle cx="423.8" cy="87.9" r="2.5" fill="url(#cellg)" stroke="#5a4848" stroke-opacity="0.6" stroke-width="1.0"/>
<circle cx="435.8" cy="87.9" r="2.2" fill="url(#cellg)" stroke="#5a4848" stroke-opacity="0.6" stroke-width="1.0"/>
<circle cx="446.9" cy="85.4" r="2.2" fill="url(#cellg)" stroke="#5a4848" stroke-opacity="0.6" stroke-width="1.0"/>
<circle cx="455.0" cy="88.5" r="2.6" fill="url(#cellg)" stroke="#5a4848" stroke-opacity="0.6" stroke-width="1.0"/>
<circle cx="461.8" cy="89.8" r="2.3" fill="url(#cellg)" stroke="#5a4848" stroke-opacity="0.6" stroke-width="1.0"/>
<circle cx="468.6" cy="88.5" r="2.7" fill="url(#cellg)" stroke="#5a4848" stroke-opacity="0.6" stroke-width="1.0"/>
<circle cx="475.7" cy="89.9" r="2.7" fill="url(#cellg)" stroke="#5a4848" stroke-opacity="0.6" stroke-width="1.0"/>
<circle cx="482.4" cy="89.7" r="2.1" fill="url(#cellg)" stroke="#5a4848" stroke-opacity="0.6" stroke-width="1.0"/>
<circle cx="490.3" cy="86.4" r="2.7" fill="url(#cellg)" stroke="#5a4848" stroke-opacity="0.6" stroke-width="1.0"/>
<circle cx="498.7" cy="88.8" r="2.3" fill="url(#cellg)" stroke="#5a4848" stroke-opacity="0.6" stroke-width="1.0"/>
<circle cx="414.1" cy="93.8" r="2.3" fill="url(#cellg)" stroke="#5a4848" stroke-opacity="0.6" stroke-width="1.0"/>
<circle cx="422.0" cy="91.5" r="2.1" fill="url(#cellg)" stroke="#5a4848" stroke-opacity="0.6" stroke-width="1.0"/>
<circle cx="430.7" cy="93.9" r="2.4" fill="url(#cellg)" stroke="#5a4848" stroke-opacity="0.6" stroke-width="1.0"/>
<circle cx="442.1" cy="93.6" r="2.2" fill="url(#cellg)" stroke="#5a4848" stroke-opacity="0.6" stroke-width="1.0"/>
<circle cx="452.9" cy="93.8" r="2.1" fill="url(#cellg)" stroke="#5a4848" stroke-opacity="0.6" stroke-width="1.0"/>
<circle cx="460.8" cy="98.3" r="2.1" fill="url(#cellg)" stroke="#5a4848" stroke-opacity="0.6" stroke-width="1.0"/>
<circle cx="469.9" cy="95.3" r="2.2" fill="url(#cellg)" stroke="#5a4848" stroke-opacity="0.6" stroke-width="1.0"/>
<circle cx="477.9" cy="93.6" r="2.1" fill="url(#cellg)" stroke="#5a4848" stroke-opacity="0.6" stroke-width="1.0"/>
<circle cx="485.4" cy="94.5" r="2.6" fill="url(#cellg)" stroke="#5a4848" stroke-opacity="0.6" stroke-width="1.0"/>
<circle cx="492.3" cy="96.8" r="2.3" fill="url(#cellg)" stroke="#5a4848" stroke-opacity="0.6" stroke-width="1.0"/>
<circle cx="500.8" cy="94.9" r="2.3" fill="url(#cellg)" stroke="#5a4848" stroke-opacity="0.6" stroke-width="1.0"/>
<circle cx="415.8" cy="99.6" r="2.1" fill="url(#cellg)" stroke="#5a4848" stroke-opacity="0.6" stroke-width="1.0"/>
<circle cx="424.0" cy="98.3" r="2.1" fill="url(#cellg)" stroke="#5a4848" stroke-opacity="0.6" stroke-width="1.0"/>
<circle cx="432.2" cy="100.5" r="2.5" fill="url(#cellg)" stroke="#5a4848" stroke-opacity="0.6" stroke-width="1.0"/>
<circle cx="443.8" cy="101.5" r="2.1" fill="url(#cellg)" stroke="#5a4848" stroke-opacity="0.6" stroke-width="1.0"/>
<circle cx="454.0" cy="99.9" r="2.7" fill="url(#cellg)" stroke="#5a4848" stroke-opacity="0.6" stroke-width="1.0"/>
<circle cx="465.4" cy="102.4" r="2.5" fill="url(#cellg)" stroke="#5a4848" stroke-opacity="0.6" stroke-width="1.0"/>
<circle cx="473.9" cy="102.6" r="2.5" fill="url(#cellg)" stroke="#5a4848" stroke-opacity="0.6" stroke-width="1.0"/>
<circle cx="481.7" cy="100.4" r="2.4" fill="url(#cellg)" stroke="#5a4848" stroke-opacity="0.6" stroke-width="1.0"/>
<circle cx="489.4" cy="103.4" r="2.1" fill="url(#cellg)" stroke="#5a4848" stroke-opacity="0.6" stroke-width="1.0"/>
<circle cx="497.4" cy="100.9" r="2.4" fill="url(#cellg)" stroke="#5a4848" stroke-opacity="0.6" stroke-width="1.0"/>
<circle cx="504.5" cy="99.7" r="2.7" fill="url(#cellg)" stroke="#5a4848" stroke-opacity="0.6" stroke-width="1.0"/>
<circle cx="419.9" cy="106.4" r="2.3" fill="url(#cellg)" stroke="#5a4848" stroke-opacity="0.6" stroke-width="1.0"/>
<circle cx="427.8" cy="107.7" r="2.7" fill="url(#cellg)" stroke="#5a4848" stroke-opacity="0.6" stroke-width="1.0"/>
<circle cx="437.7" cy="105.4" r="2.4" fill="url(#cellg)" stroke="#5a4848" stroke-opacity="0.6" stroke-width="1.0"/>
<circle cx="447.8" cy="106.6" r="2.2" fill="url(#cellg)" stroke="#5a4848" stroke-opacity="0.6" stroke-width="1.0"/>
<circle cx="457.4" cy="107.4" r="2.1" fill="url(#cellg)" stroke="#5a4848" stroke-opacity="0.6" stroke-width="1.0"/>
<circle cx="467.7" cy="108.3" r="2.1" fill="url(#cellg)" stroke="#5a4848" stroke-opacity="0.6" stroke-width="1.0"/>
<circle cx="477.7" cy="108.4" r="2.6" fill="url(#cellg)" stroke="#5a4848" stroke-opacity="0.6" stroke-width="1.0"/>
<circle cx="487.5" cy="108.7" r="2.2" fill="url(#cellg)" stroke="#5a4848" stroke-opacity="0.6" stroke-width="1.0"/>
<circle cx="495.5" cy="107.7" r="2.1" fill="url(#cellg)" stroke="#5a4848" stroke-opacity="0.6" stroke-width="1.0"/>
<circle cx="503.7" cy="109.3" r="2.6" fill="url(#cellg)" stroke="#5a4848" stroke-opacity="0.6" stroke-width="1.0"/>
</g></g>
<clipPath id="c2"><rect x="507.4" y="30" width="92.6" height="81.8"/></clipPath>
<g clip-path="url(#c2)">
<rect x="507.4" y="30" width="92.6" height="81.8" fill="#c8acb5"/>
<g filter="url(#blur)">
<circle cx="565.3" cy="36.2" r="2.1" fill="url(#cellg)" stroke="#5a4848" stroke-opacity="0.6" stroke-width="1.0"/>
<circle cx="575.7" cy="33.2" r="2.6" fill="url(#cellg)" stroke="#5a4848" stroke-opacity="0.6" stroke-width="1.0"/>
<circle cx="582.1" cy="38.8" r="2.5" fill="url(#cellg)" stroke="#5a4848" stroke-opacity="0.6" stroke-width="1.0"/>
<circle cx="579.0" cy="45.0" r="2.2" fill="url(#cellg)" stroke="#5a4848" stroke-opacity="0.6" stroke-width="1.0"/>
<circle cx="567.0" cy="43.9" r="2.6" fill="url(#cellg)" stroke="#5a4848" stroke-opacity="0.6" stroke-width="1.0"/>
<circle cx="569.3" cy="51.1" r="2.4" fill="url(#cellg)" stroke="#5a4848" stroke-opacity="0.6" stroke-width="1.0"/>
<circle cx="574.0" cy="52.7" r="2.1" fill="url(#cellg)" stroke="#5a4848" stroke-opacity="0.6" stroke-width="1.0"/>
<circle cx="589.6" cy="52.8" r="2.3" fill="url(#cellg)" stroke="#5a4848" stroke-opacity="0.6" stroke-width="1.0"/>
<circle cx="588.8" cy="56.1" r="2.4" fill="url(#cellg)" stroke="#5a4848" stroke-opacity="0.6" stroke-width="1.0"/>
<circle cx="594.9" cy="63.6" r="2.1" fill="url(#cellg)" stroke="#5a4848" stroke-opacity="0.6" stroke-width="1.0"/>
<circle cx="587.8" cy="70.5" r="2.4" fill="url(#cellg)" stroke="#5a4848" stroke-opacity="0.6" stroke-width="1.0"/>
<circle cx="582.3" cy="71.9" r="2.2" fill="url(#cellg)" stroke="#5a4848" stroke-opacity="0.6" stroke-width="1.0"/>
<circle cx="510.6" cy="48.1" r="2.6" fill="url(#cellg)" stroke="#5a4848" stroke-opacity="0.6" stroke-width="1.0"/>
<circle cx="510.6" cy="54.0" r="2.6" fill="url(#cellg)" stroke="#5a4848" stroke-opacity="0.6" stroke-width="1.0"/>
<circle cx="517.3" cy="50.2" r="2.7" fill="url(#cellg)" stroke="#5a4848" stroke-opacity="0.6" stroke-width="1.0"/>
<circle cx="528.1" cy="49.0" r="2.6" fill="url(#cellg)" stroke="#5a4848" stroke-opacity="0.6" stroke-width="1.0"/>
<circle cx="533.2" cy="55.9" r="2.4" fill="url(#cellg)" stroke="#5a4848" stroke-opacity="0.6" stroke-width="1.0"/>
<circle cx="538.5" cy="49.9" r="2.6" fill="url(#cellg)" stroke="#5a4848" stroke-opacity="0.6" stroke-width="1.0"/>
<circle cx="537.1" cy="55.1" r="2.7" fill="url(#cellg)" stroke="#5a4848" stroke-opacity="0.6" stroke-width="1.0"/>
<circle cx="514.3" cy="59.9" r="2.7" fill="url(#cellg)" stroke="#5a4848" stroke-opacity="0.6" stroke-width="1.0"/>
<circle cx="521.5" cy="57.8" r="2.2" fill="url(#cellg)" stroke="#5a4848" stroke-opacity="0.6" stroke-width="1.0"/>
<circle cx="526.2" cy="59.9" r="2.2" fill="url(#cellg)" stroke="#5a4848" stroke-opacity="0.6" stroke-width="1.0"/>
<circle cx="522.6" cy="64.7" r="2.7" fill="url(#cellg)" stroke="#5a4848" stroke-opacity="0.6" stroke-width="1.0"/>
<circle cx="527.2" cy="63.1" r="2.5" fill="url(#cellg)" stroke="#5a4848" stroke-opacity="0.6" stroke-width="1.0"/>
<circle cx="531.3" cy="66.8" r="2.5" fill="url(#cellg)" stroke="#5a4848" stroke-opacity="0.6" stroke-width="1.0"/>
<circle cx="514.4" cy="65.7" r="2.2" fill="url(#cellg)" stroke="#5a4848" stroke-opacity="0.6" stroke-width="1.0"/>
<circle cx="538.2" cy="61.1" r="2.5" fill="url(#cellg)" stroke="#5a4848" stroke-opacity="0.6" stroke-width="1.0"/>
<circle cx="546.9" cy="59.0" r="2.6" fill="url(#cellg)" stroke="#5a4848" stroke-opacity="0.6" stroke-width="1.0"/>
<circle cx="553.4" cy="58.6" r="2.6" fill="url(#cellg)" stroke="#5a4848" stroke-opacity="0.6" stroke-width="1.0"/>
<circle cx="549.9" cy="65.9" r="2.2" fill="url(#cellg)" stroke="#5a4848" stroke-opacity="0.6" stroke-width="1.0"/>
<circle cx="553.0" cy="69.0" r="2.1" fill="url(#cellg)" stroke="#5a4848" stroke-opacity="0.6" stroke-width="1.0"/>
<circle cx="548.2" cy="73.0" r="2.2" fill="url(#cellg)" stroke="#5a4848" stroke-opacity="0.6" stroke-width="1.0"/>
<circle cx="538.0" cy="72.0" r="2.3" fill="url(#cellg)" stroke="#5a4848" stroke-opacity="0.6" stroke-width="1.0"/>
<circle cx="528.4" cy="71.5" r="2.3" fill="url(#cellg)" stroke="#5a4848" stroke-opacity="0.6" stroke-width="1.0"/>
<circle cx="522.1" cy="69.9" r="2.1" fill="url(#cellg)" stroke="#5a4848" stroke-opacity="0.6" stroke-width="1.0"/>
<circle cx="523.6" cy="75.4" r="2.6" fill="url(#cellg)" stroke="#5a4848" stroke-opacity="0.6" stroke-width="1.0"/>
<circle cx="512.1" cy="72.6" r="2.6" fill="url(#cellg)" stroke="#5a4848" stroke-opacity="0.6" stroke-width="1.0"/>
<circle cx="511.2" cy="78.5" r="2.5" fill="url(#cellg)" stroke="#5a4848" stroke-opacity="0.6" stroke-width="1.0"/>
<circle cx="516.3" cy="77.4" r="2.7" fill="url(#cellg)" stroke="#5a4848" stroke-opacity="0.6" stroke-width="1.0"/>
<circle cx="514.1" cy="81.4" r="2.3" fill="url(#cellg)" stroke="#5a4848" stroke-opacity="0.6" stroke-width="1.0"/>
<circle cx="523.4" cy="82.8" r="2.1" fill="url(#cellg)" stroke="#5a4848" stroke-opacity="0.6" stroke-width="1.0"/>
<circle cx="529.2" cy="77.4" r="2.4" fill="url(#cellg)" stroke="#5a4848" stroke-opacity="0.6" stroke-width="1.0"/>
<circle cx="531.4" cy="82.8" r="2.7" fill="url(#cellg)" stroke="#5a4848" stroke-opacity="0.6" stroke-width="1.0"/>
<circle cx="537.4" cy="77.9" r="2.5" fill="url(#cellg)" stroke="#5a4848" stroke-opacity="0.6" stroke-width="1.0"/>
<circle cx="540.2" cy="74.6" r="2.5" fill="url(#cellg)" stroke="#5a4848" stroke-opacity="0.6" stroke-width="1.0"/>
<circle cx="544.1" cy="78.5" r="2.4" fill="url(#cellg)" stroke="#5a4848" stroke-opacity="0.6" stroke-width="1.0"/>
<circle cx="549.4" cy="76.5" r="2.5" fill="url(#cellg)" stroke="#5a4848" stroke-opacity="0.6" stroke-width="1.0"/>
<circle cx="555.0" cy="75.7" r="2.2" fill="url(#cellg)" stroke="#5a4848" stroke-opacity="0.6" stroke-width="1.0"/>
<circle cx="562.3" cy="69.6" r="2.5" fill="url(#cellg)" stroke="#5a4848" stroke-opacity="0.6" stroke-width="1.0"/>
<circle cx="562.0" cy="72.5" r="2.4" fill="url(#cellg)" stroke="#5a4848" stroke-opacity="0.6" stroke-width="1.0"/>
<circle cx="566.8" cy="72.5" r="2.1" fill="url(#cellg)" stroke="#5a4848" stroke-opacity="0.6" stroke-width="1.0"/>
<circle cx="563.9" cy="77.5" r="2.5" fill="url(#cellg)" stroke="#5a4848" stroke-opacity="0.6" stroke-width="1.0"/>
<circle cx="569.0" cy="78.0" r="2.7" fill="url(#cellg)" stroke="#5a4848" stroke-opacity="0.6" stroke-width="1.0"/>
<circle cx="571.3" cy="61.6" r="2.4" fill="url(#cellg)" stroke="#5a4848" stroke-opacity="0.6" stroke-width="1.0"/>
<circle cx="565.9" cy="63.9" r="2.5" fill="url(#cellg)" stroke="#5a4848" stroke-opacity="0.6" stroke-width="1.0"/>
<circle cx="581.1" cy="61.9" r="2.2" fill="url(#cellg)" stroke="#5a4848" stroke-opacity="0.6" stroke-width="1.0"/>
<circle cx="557.1" cy="83.7" r="2.1" fill="url(#cellg)" stroke="#5a4848" stroke-opacity="0.6" stroke-width="1.0"/>
<circle cx="560.8" cy="86.6" r="2.1" fill="url(#cellg)" stroke="#5a4848" stroke-opacity="0.6" stroke-width="1.0"/>
<circle cx="567.2" cy="87.5" r="2.1" fill="url(#cellg)" stroke="#5a4848" stroke-opacity="0.6" stroke-width="1.0"/>
<circle cx="572.8" cy="88.5" r="2.2" fill="url(#cellg)" stroke="#5a4848" stroke-opacity="0.6" stroke-width="1.0"/>
<circle cx="576.0" cy="83.7" r="2.3" fill="url(#cellg)" stroke="#5a4848" stroke-opacity="0.6" stroke-width="1.0"/>
<circle cx="582.0" cy="81.5" r="2.7" fill="url(#cellg)" stroke="#5a4848" stroke-opacity="0.6" stroke-width="1.0"/>
<circle cx="583.2" cy="86.8" r="2.4" fill="url(#cellg)" stroke="#5a4848" stroke-opacity="0.6" stroke-width="1.0"/>
<circle cx="588.9" cy="84.7" r="2.1" fill="url(#cellg)" stroke="#5a4848" stroke-opacity="0.6" stroke-width="1.0"/>
<circle cx="594.8" cy="83.7" r="2.2" fill="url(#cellg)" stroke="#5a4848" stroke-opacity="0.6" stroke-width="1.0"/>
<circle cx="594.6" cy="88.8" r="2.3" fill="url(#cellg)" stroke="#5a4848" stroke-opacity="0.6" stroke-width="1.0"/>
<circle cx="598.9" cy="89.9" r="2.5" fill="url(#cellg)" stroke="#5a4848" stroke-opacity="0.6" stroke-width="1.0"/>
<circle cx="588.8" cy="90.9" r="2.3" fill="url(#cellg)" stroke="#5a4848" stroke-opacity="0.6" stroke-width="1.0"/>
<circle cx="583.7" cy="93.7" r="2.1" fill="url(#cellg)" stroke="#5a4848" stroke-opacity="0.6" stroke-width="1.0"/>
<circle cx="577.9" cy="94.8" r="2.5" fill="url(#cellg)" stroke="#5a4848" stroke-opacity="0.6" stroke-width="1.0"/>
<circle cx="572.7" cy="93.6" r="2.3" fill="url(#cellg)" stroke="#5a4848" stroke-opacity="0.6" stroke-width="1.0"/>
<circle cx="531.2" cy="89.5" r="2.5" fill="url(#cellg)" stroke="#5a4848" stroke-opacity="0.6" stroke-width="1.0"/>
<circle cx="528.0" cy="94.5" r="2.3" fill="url(#cellg)" stroke="#5a4848" stroke-opacity="0.6" stroke-width="1.0"/>
<circle cx="527.5" cy="99.3" r="2.6" fill="url(#cellg)" stroke="#5a4848" stroke-opacity="0.6" stroke-width="1.0"/>
<circle cx="540.0" cy="88.7" r="2.3" fill="url(#cellg)" stroke="#5a4848" stroke-opacity="0.6" stroke-width="1.0"/>
<circle cx="546.1" cy="87.8" r="2.3" fill="url(#cellg)" stroke="#5a4848" stroke-opacity="0.6" stroke-width="1.0"/>
<circle cx="548.9" cy="92.4" r="2.1" fill="url(#cellg)" stroke="#5a4848" stroke-opacity="0.6" stroke-width="1.0"/>
<circle cx="555.3" cy="91.7" r="2.7" fill="url(#cellg)" stroke="#5a4848" stroke-opacity="0.6" stroke-width="1.0"/>
<circle cx="561.2" cy="95.3" r="2.5" fill="url(#cellg)" stroke="#5a4848" stroke-opacity="0.6" stroke-width="1.0"/>
<circle cx="559.3" cy="99.7" r="2.4" fill="url(#cellg)" stroke="#5a4848" stroke-opacity="0.6" stroke-width="1.0"/>
<circle cx="565.0" cy="101.5" r="2.6" fill="url(#cellg)" stroke="#5a4848" stroke-opacity="0.6" stroke-width="1.0"/>
<circle cx="566.9" cy="106.6" r="2.4" fill="url(#cellg)" stroke="#5a4848" stroke-opacity="0.6" stroke-width="1.0"/>
<circle cx="561.4" cy="106.7" r="2.7" fill="url(#cellg)" stroke="#5a4848" stroke-opacity="0.6" stroke-width="1.0"/>
<circle cx="555.3" cy="102.4" r="2.2" fill="url(#cellg)" stroke="#5a4848" stroke-opacity="0.6" stroke-width="1.0"/>
<circle cx="536.2" cy="100.4" r="2.3" fill="url(#cellg)" stroke="#5a4848" stroke-opacity="0.6" stroke-width="1.0"/>
<circle cx="538.3" cy="105.8" r="2.5" fill="url(#cellg)" stroke="#5a4848" stroke-opacity="0.6" stroke-width="1.0"/>
<circle cx="577.2" cy="99.3" r="2.3" fill="url(#cellg)" stroke="#5a4848" stroke-opacity="0.6" stroke-width="1.0"/>
<circle cx="584.2" cy="100.4" r="2.3" fill="url(#cellg)" stroke="#5a4848" stroke-opacity="0.6" stroke-width="1.0"/>
<circle cx="589.6" cy="107.3" r="2.7" fill="url(#cellg)" stroke="#5a4848" stroke-opacity="0.6" stroke-width="1.0"/>
<circle cx="596.2" cy="98.7" r="2.1" fill="url(#cellg)" stroke="#5a4848" stroke-opacity="0.6" stroke-width="1.0"/>
<circle cx="598.7" cy="105.4" r="2.5" fill="url(#cellg)" stroke="#5a4848" stroke-opacity="0.6" stroke-width="1.0"/>
<circle cx="509.5" cy="89.6" r="2.4" fill="url(#cellg)" stroke="#5a4848" stroke-opacity="0.6" stroke-width="1.0"/>
<circle cx="511.1" cy="95.6" r="2.7" fill="url(#cellg)" stroke="#5a4848" stroke-opacity="0.6" stroke-width="1.0"/>
</g></g>
<clipPath id="c3"><rect x="412" y="113.7" width="94" height="85.3"/></clipPath>
<g clip-path="url(#c3)">
<rect x="412" y="113.7" width="94" height="85.3" fill="#e4c4ca"/>
<g filter="url(#blur)">
<polygon points="474.5,136.6 483.8,128.1 491.2,117.9 481.9,126.4" fill="#a89080" fill-opacity="0.3" stroke="#6a5850" stroke-opacity="0.35" stroke-width="0.6"/>
<polygon points="459.9,190.8 478.0,186.8 495.3,180.4 477.3,184.3" fill="#a89080" fill-opacity="0.3" stroke="#6a5850" stroke-opacity="0.35" stroke-width="0.6"/>
<polygon points="424.5,176.2 429.2,179.5 434.9,180.4 430.2,177.1" fill="#a89080" fill-opacity="0.3" stroke="#6a5850" stroke-opacity="0.35" stroke-width="0.6"/>
<polygon points="443.2,153.3 449.8,159.5 457.8,163.7 451.3,157.4" fill="#a89080" fill-opacity="0.3" stroke="#6a5850" stroke-opacity="0.35" stroke-width="0.6"/>
<polygon points="472.4,151.2 478.3,154.5 484.9,155.4 479.1,152.1" fill="#a89080" fill-opacity="0.3" stroke="#6a5850" stroke-opacity="0.35" stroke-width="0.6"/>
<circle cx="416.4" cy="117.2" r="2.4" fill="#c8b4a0" fill-opacity="0.45" stroke="#5e4a40" stroke-opacity="0.62" stroke-width="1"/>
<circle cx="425.5" cy="113.3" r="2.8" fill="#c8b4a0" fill-opacity="0.45" stroke="#5e4a40" stroke-opacity="0.62" stroke-width="1"/>
<circle cx="426.4" cy="114.5" r="3.0" fill="#c8b4a0" fill-opacity="0.45" stroke="#5e4a40" stroke-opacity="0.62" stroke-width="1"/>
<circle cx="440.8" cy="118.8" r="2.5" fill="#c8b4a0" fill-opacity="0.45" stroke="#5e4a40" stroke-opacity="0.62" stroke-width="1"/>
<circle cx="437.3" cy="119.6" r="2.8" fill="#c8b4a0" fill-opacity="0.45" stroke="#5e4a40" stroke-opacity="0.62" stroke-width="1"/>
<circle cx="451.7" cy="116.6" r="1.7" fill="#c8b4a0" fill-opacity="0.45" stroke="#5e4a40" stroke-opacity="0.62" stroke-width="1"/>
<circle cx="451.8" cy="116.2" r="2.0" fill="#c8b4a0" fill-opacity="0.45" stroke="#5e4a40" stroke-opacity="0.62" stroke-width="1"/>
<circle cx="457.6" cy="121.9" r="2.6" fill="#c8b4a0" fill-opacity="0.45" stroke="#5e4a40" stroke-opacity="0.62" stroke-width="1"/>
<circle cx="446.4" cy="127.3" r="2.2" fill="#c8b4a0" fill-opacity="0.45" stroke="#5e4a40" stroke-opacity="0.62" stroke-width="1"/>
<circle cx="446.8" cy="124.9" r="2.9" fill="#c8b4a0" fill-opacity="0.45" stroke="#5e4a40" stroke-opacity="0.62" stroke-width="1"/>
<circle cx="447.2" cy="123.1" r="1.8" fill="#c8b4a0" fill-opacity="0.45" stroke="#5e4a40" stroke-opacity="0.62" stroke-width="1"/>
<circle cx="439.3" cy="129.0" r="2.5" fill="#c8b4a0" fill-opacity="0.45" stroke="#5e4a40" stroke-opacity="0.62" stroke-width="1"/>
<circle cx="428.7" cy="131.9" r="2.1" fill="#c8b4a0" fill-opacity="0.45" stroke="#5e4a40" stroke-opacity="0.62" stroke-width="1"/>
<circle cx="489.5" cy="126.1" r="2.6" fill="#c8b4a0" fill-opacity="0.45" stroke="#5e4a40" stroke-opacity="0.62" stroke-width="1"/>
<circle cx="491.2" cy="125.9" r="3.0" fill="#c8b4a0" fill-opacity="0.45" stroke="#5e4a40" stroke-opacity="0.62" stroke-width="1"/>
<circle cx="490.5" cy="134.3" r="3.0" fill="#c8b4a0" fill-opacity="0.45" stroke="#5e4a40" stroke-opacity="0.62" stroke-width="1"/>
<circle cx="494.2" cy="132.8" r="2.6" fill="#c8b4a0" fill-opacity="0.45" stroke="#5e4a40" stroke-opacity="0.62" stroke-width="1"/>
<circle cx="490.8" cy="134.1" r="2.4" fill="#c8b4a0" fill-opacity="0.45" stroke="#5e4a40" stroke-opacity="0.62" stroke-width="1"/>
<circle cx="478.6" cy="142.6" r="3.0" fill="#c8b4a0" fill-opacity="0.45" stroke="#5e4a40" stroke-opacity="0.62" stroke-width="1"/>
<circle cx="478.1" cy="146.6" r="1.8" fill="#c8b4a0" fill-opacity="0.45" stroke="#5e4a40" stroke-opacity="0.62" stroke-width="1"/>
<circle cx="486.3" cy="146.8" r="1.7" fill="#c8b4a0" fill-opacity="0.45" stroke="#5e4a40" stroke-opacity="0.62" stroke-width="1"/>
<circle cx="493.1" cy="139.8" r="2.1" fill="#c8b4a0" fill-opacity="0.45" stroke="#5e4a40" stroke-opacity="0.62" stroke-width="1"/>
<circle cx="497.2" cy="141.1" r="2.3" fill="#c8b4a0" fill-opacity="0.45" stroke="#5e4a40" stroke-opacity="0.62" stroke-width="1"/>
<circle cx="500.6" cy="132.4" r="2.4" fill="#c8b4a0" fill-opacity="0.45" stroke="#5e4a40" stroke-opacity="0.62" stroke-width="1"/>
<circle cx="499.2" cy="133.0" r="2.2" fill="#c8b4a0" fill-opacity="0.45" stroke="#5e4a40" stroke-opacity="0.62" stroke-width="1"/>
<circle cx="502.1" cy="132.8" r="1.7" fill="#c8b4a0" fill-opacity="0.45" stroke="#5e4a40" stroke-opacity="0.62" stroke-width="1"/>
<circle cx="486.1" cy="153.5" r="2.9" fill="#c8b4a0" fill-opacity="0.45" stroke="#5e4a40" stroke-opacity="0.62" stroke-width="1"/>
<circle cx="486.4" cy="151.0" r="2.3" fill="#c8b4a0" fill-opacity="0.45" stroke="#5e4a40" stroke-opacity="0.62" stroke-width="1"/>
<circle cx="487.7" cy="151.7" r="2.4" fill="#c8b4a0" fill-opacity="0.45" stroke="#5e4a40" stroke-opacity="0.62" stroke-width="1"/>
<circle cx="501.7" cy="145.0" r="2.2" fill="#c8b4a0" fill-opacity="0.45" stroke="#5e4a40" stroke-opacity="0.62" stroke-width="1"/>
<circle cx="500.6" cy="143.6" r="2.0" fill="#c8b4a0" fill-opacity="0.45" stroke="#5e4a40" stroke-opacity="0.62" stroke-width="1"/>
<circle cx="412.1" cy="141.0" r="1.6" fill="#c8b4a0" fill-opacity="0.45" stroke="#5e4a40" stroke-opacity="0.62" stroke-width="1"/>
<circle cx="411.6" cy="141.2" r="1.6" fill="#c8b4a0" fill-opacity="0.45" stroke="#5e4a40" stroke-opacity="0.62" stroke-width="1"/>
<circle cx="412.6" cy="141.4" r="1.7" fill="#c8b4a0" fill-opacity="0.45" stroke="#5e4a40" stroke-opacity="0.62" stroke-width="1"/>
<circle cx="420.2" cy="145.8" r="2.1" fill="#c8b4a0" fill-opacity="0.45" stroke="#5e4a40" stroke-opacity="0.62" stroke-width="1"/>
<circle cx="421.4" cy="146.1" r="1.6" fill="#c8b4a0" fill-opacity="0.45" stroke="#5e4a40" stroke-opacity="0.62" stroke-width="1"/>
<circle cx="425.4" cy="149.3" r="2.0" fill="#c8b4a0" fill-opacity="0.45" stroke="#5e4a40" stroke-opacity="0.62" stroke-width="1"/>
<circle cx="412.5" cy="152.4" r="2.1" fill="#c8b4a0" fill-opacity="0.45" stroke="#5e4a40" stroke-opacity="0.62" stroke-width="1"/>
<circle cx="411.1" cy="152.6" r="2.4" fill="#c8b4a0" fill-opacity="0.45" stroke="#5e4a40" stroke-opacity="0.62" stroke-width="1"/>
<circle cx="441.6" cy="152.6" r="1.6" fill="#c8b4a0" fill-opacity="0.45" stroke="#5e4a40" stroke-opacity="0.62" stroke-width="1"/>
<circle cx="435.1" cy="155.5" r="1.9" fill="#c8b4a0" fill-opacity="0.45" stroke="#5e4a40" stroke-opacity="0.62" stroke-width="1"/>
<circle cx="435.4" cy="155.1" r="1.9" fill="#c8b4a0" fill-opacity="0.45" stroke="#5e4a40" stroke-opacity="0.62" stroke-width="1"/>
<circle cx="449.4" cy="155.5" r="2.1" fill="#c8b4a0" fill-opacity="0.45" stroke="#5e4a40" stroke-opacity="0.62" stroke-width="1"/>
<circle cx="447.6" cy="159.1" r="2.2" fill="#c8b4a0" fill-opacity="0.45" stroke="#5e4a40" stroke-opacity="0.62" stroke-width="1"/>
<circle cx="452.0" cy="161.8" r="2.5" fill="#c8b4a0" fill-opacity="0.45" stroke="#5e4a40" stroke-opacity="0.62" stroke-width="1"/>
<circle cx="455.6" cy="162.4" r="1.9" fill="#c8b4a0" fill-opacity="0.45" stroke="#5e4a40" stroke-opacity="0.62" stroke-width="1"/>
<circle cx="451.8" cy="162.8" r="1.9" fill="#c8b4a0" fill-opacity="0.45" stroke="#5e4a40" stroke-opacity="0.62" stroke-width="1"/>
<circle cx="461.6" cy="168.4" r="2.0" fill="#c8b4a0" fill-opacity="0.45" stroke="#5e4a40" stroke-opacity="0.62" stroke-width="1"/>
<circle cx="461.5" cy="170.7" r="2.7" fill="#c8b4a0" fill-opacity="0.45" stroke="#5e4a40" stroke-opacity="0.62" stroke-width="1"/>
<circle cx="459.1" cy="168.1" r="2.0" fill="#c8b4a0" fill-opacity="0.45" stroke="#5e4a40" stroke-opacity="0.62" stroke-width="1"/>
<circle cx="470.2" cy="168.1" r="2.2" fill="#c8b4a0" fill-opacity="0.45" stroke="#5e4a40" stroke-opacity="0.62" stroke-width="1"/>
<circle cx="471.0" cy="168.5" r="2.9" fill="#c8b4a0" fill-opacity="0.45" stroke="#5e4a40" stroke-opacity="0.62" stroke-width="1"/>
<circle cx="469.7" cy="166.4" r="2.9" fill="#c8b4a0" fill-opacity="0.45" stroke="#5e4a40" stroke-opacity="0.62" stroke-width="1"/>
<circle cx="479.0" cy="169.6" r="2.9" fill="#c8b4a0" fill-opacity="0.45" stroke="#5e4a40" stroke-opacity="0.62" stroke-width="1"/>
<circle cx="478.7" cy="168.6" r="2.6" fill="#c8b4a0" fill-opacity="0.45" stroke="#5e4a40" stroke-opacity="0.62" stroke-width="1"/>
<circle cx="478.3" cy="170.8" r="2.3" fill="#c8b4a0" fill-opacity="0.45" stroke="#5e4a40" stroke-opacity="0.62" stroke-width="1"/>
<circle cx="487.2" cy="168.6" r="1.7" fill="#c8b4a0" fill-opacity="0.45" stroke="#5e4a40" stroke-opacity="0.62" stroke-width="1"/>
<circle cx="493.2" cy="169.4" r="1.7" fill="#c8b4a0" fill-opacity="0.45" stroke="#5e4a40" stroke-opacity="0.62" stroke-width="1"/>
<circle cx="496.3" cy="168.8" r="2.9" fill="#c8b4a0" fill-opacity="0.45" stroke="#5e4a40" stroke-opacity="0.62" stroke-width="1"/>
<circle cx="417.1" cy="174.5" r="1.6" fill="#c8b4a0" fill-opacity="0.45" stroke="#5e4a40" stroke-opacity="0.62" stroke-width="1"/>
<circle cx="416.4" cy="172.5" r="2.0" fill="#c8b4a0" fill-opacity="0.45" stroke="#5e4a40" stroke-opacity="0.62" stroke-width="1"/>
<circle cx="415.9" cy="174.2" r="2.2" fill="#c8b4a0" fill-opacity="0.45" stroke="#5e4a40" stroke-opacity="0.62" stroke-width="1"/>
<circle cx="418.8" cy="181.7" r="2.0" fill="#c8b4a0" fill-opacity="0.45" stroke="#5e4a40" stroke-opacity="0.62" stroke-width="1"/>
<circle cx="420.1" cy="182.3" r="2.7" fill="#c8b4a0" fill-opacity="0.45" stroke="#5e4a40" stroke-opacity="0.62" stroke-width="1"/>
<circle cx="417.5" cy="180.9" r="2.3" fill="#c8b4a0" fill-opacity="0.45" stroke="#5e4a40" stroke-opacity="0.62" stroke-width="1"/>
<circle cx="422.9" cy="186.0" r="2.9" fill="#c8b4a0" fill-opacity="0.45" stroke="#5e4a40" stroke-opacity="0.62" stroke-width="1"/>
<circle cx="426.0" cy="186.2" r="1.6" fill="#c8b4a0" fill-opacity="0.45" stroke="#5e4a40" stroke-opacity="0.62" stroke-width="1"/>
<circle cx="425.1" cy="186.3" r="1.7" fill="#c8b4a0" fill-opacity="0.45" stroke="#5e4a40" stroke-opacity="0.62" stroke-width="1"/>
<circle cx="431.7" cy="179.5" r="2.2" fill="#c8b4a0" fill-opacity="0.45" stroke="#5e4a40" stroke-opacity="0.62" stroke-width="1"/>
<circle cx="438.4" cy="170.6" r="1.7" fill="#c8b4a0" fill-opacity="0.45" stroke="#5e4a40" stroke-opacity="0.62" stroke-width="1"/>
<circle cx="435.1" cy="171.2" r="1.7" fill="#c8b4a0" fill-opacity="0.45" stroke="#5e4a40" stroke-opacity="0.62" stroke-width="1"/>
<circle cx="450.2" cy="176.2" r="2.3" fill="#c8b4a0" fill-opacity="0.45" stroke="#5e4a40" stroke-opacity="0.62" stroke-width="1"/>
<circle cx="447.5" cy="177.4" r="2.1" fill="#c8b4a0" fill-opacity="0.45" stroke="#5e4a40" stroke-opacity="0.62" stroke-width="1"/>
<circle cx="449.2" cy="178.7" r="2.1" fill="#c8b4a0" fill-opacity="0.45" stroke="#5e4a40" stroke-opacity="0.62" stroke-width="1"/>
<circle cx="449.7" cy="183.7" r="2.4" fill="#c8b4a0" fill-opacity="0.45" stroke="#5e4a40" stroke-opacity="0.62" stroke-width="1"/>
<circle cx="455.2" cy="184.5" r="1.8" fill="#c8b4a0" fill-opacity="0.45" stroke="#5e4a40" stroke-opacity="0.62" stroke-width="1"/>
<circle cx="455.1" cy="187.1" r="2.7" fill="#c8b4a0" fill-opacity="0.45" stroke="#5e4a40" stroke-opacity="0.62" stroke-width="1"/>
<circle cx="455.2" cy="188.1" r="2.5" fill="#c8b4a0" fill-opacity="0.45" stroke="#5e4a40" stroke-opacity="0.62" stroke-width="1"/>
<circle cx="462.4" cy="178.3" r="2.6" fill="#c8b4a0" fill-opacity="0.45" stroke="#5e4a40" stroke-opacity="0.62" stroke-width="1"/>
<circle cx="462.6" cy="179.3" r="2.2" fill="#c8b4a0" fill-opacity="0.45" stroke="#5e4a40" stroke-opacity="0.62" stroke-width="1"/>
<circle cx="467.4" cy="180.3" r="1.7" fill="#c8b4a0" fill-opacity="0.45" stroke="#5e4a40" stroke-opacity="0.62" stroke-width="1"/>
<circle cx="473.1" cy="186.4" r="2.9" fill="#c8b4a0" fill-opacity="0.45" stroke="#5e4a40" stroke-opacity="0.62" stroke-width="1"/>
<circle cx="472.8" cy="186.5" r="2.7" fill="#c8b4a0" fill-opacity="0.45" stroke="#5e4a40" stroke-opacity="0.62" stroke-width="1"/>
<circle cx="491.0" cy="184.7" r="2.7" fill="#c8b4a0" fill-opacity="0.45" stroke="#5e4a40" stroke-opacity="0.62" stroke-width="1"/>
<circle cx="501.4" cy="183.9" r="2.5" fill="#c8b4a0" fill-opacity="0.45" stroke="#5e4a40" stroke-opacity="0.62" stroke-width="1"/>
<circle cx="500.7" cy="182.8" r="1.7" fill="#c8b4a0" fill-opacity="0.45" stroke="#5e4a40" stroke-opacity="0.62" stroke-width="1"/>
<circle cx="447.0" cy="191.1" r="2.7" fill="#c8b4a0" fill-opacity="0.45" stroke="#5e4a40" stroke-opacity="0.62" stroke-width="1"/>
<circle cx="447.2" cy="190.8" r="1.7" fill="#c8b4a0" fill-opacity="0.45" stroke="#5e4a40" stroke-opacity="0.62" stroke-width="1"/>
<circle cx="462.5" cy="190.5" r="2.8" fill="#c8b4a0" fill-opacity="0.45" stroke="#5e4a40" stroke-opacity="0.62" stroke-width="1"/>
<circle cx="462.2" cy="194.6" r="2.5" fill="#c8b4a0" fill-opacity="0.45" stroke="#5e4a40" stroke-opacity="0.62" stroke-width="1"/>
<circle cx="465.8" cy="195.1" r="2.4" fill="#c8b4a0" fill-opacity="0.45" stroke="#5e4a40" stroke-opacity="0.62" stroke-width="1"/>
</g></g>
<clipPath id="c4"><rect x="507.4" y="113.6" width="92.6" height="85.4"/></clipPath>
<g clip-path="url(#c4)">
<rect x="507.4" y="113.6" width="92.6" height="85.4" fill="#e0c2c8"/>
<g filter="url(#blur)">
<polygon points="507.4,126.1 519.2,134.5 532.4,140.7 520.6,132.3" fill="#a89080" fill-opacity="0.3" stroke="#6a5850" stroke-opacity="0.35" stroke-width="0.6"/>
<polygon points="544.9,159.4 550.1,168.5 557.4,176.1 552.2,167.0" fill="#a89080" fill-opacity="0.3" stroke="#6a5850" stroke-opacity="0.35" stroke-width="0.6"/>
<polygon points="565.7,155.3 576.8,150.1 586.6,142.8 575.5,147.9" fill="#a89080" fill-opacity="0.3" stroke="#6a5850" stroke-opacity="0.35" stroke-width="0.6"/>
<polygon points="569.9,190.7 581.1,184.5 590.7,176.1 579.6,182.3" fill="#a89080" fill-opacity="0.3" stroke="#6a5850" stroke-opacity="0.35" stroke-width="0.6"/>
<polygon points="515.7,136.5 526.0,138.9 536.6,138.6 526.3,136.3" fill="#a89080" fill-opacity="0.3" stroke="#6a5850" stroke-opacity="0.35" stroke-width="0.6"/>
<polygon points="576.1,130.3 587.3,134.6 599.1,136.5 588.0,132.1" fill="#a89080" fill-opacity="0.3" stroke="#6a5850" stroke-opacity="0.35" stroke-width="0.6"/>
<polygon points="538.6,117.8 546.4,123.1 555.3,126.1 547.6,120.8" fill="#a89080" fill-opacity="0.3" stroke="#6a5850" stroke-opacity="0.35" stroke-width="0.6"/>
<polygon points="519.9,157.3 530.9,162.7 542.8,165.7 531.8,160.3" fill="#a89080" fill-opacity="0.3" stroke="#6a5850" stroke-opacity="0.35" stroke-width="0.6"/>
<circle cx="509.6" cy="133.9" r="1.8" fill="#c8b4a0" fill-opacity="0.45" stroke="#5e4a40" stroke-opacity="0.62" stroke-width="1"/>
<circle cx="511.1" cy="153.2" r="2.7" fill="#c8b4a0" fill-opacity="0.45" stroke="#5e4a40" stroke-opacity="0.62" stroke-width="1"/>
<circle cx="528.9" cy="150.2" r="2.0" fill="#c8b4a0" fill-opacity="0.45" stroke="#5e4a40" stroke-opacity="0.62" stroke-width="1"/>
<circle cx="528.7" cy="148.1" r="1.9" fill="#c8b4a0" fill-opacity="0.45" stroke="#5e4a40" stroke-opacity="0.62" stroke-width="1"/>
<circle cx="532.5" cy="151.7" r="2.7" fill="#c8b4a0" fill-opacity="0.45" stroke="#5e4a40" stroke-opacity="0.62" stroke-width="1"/>
<circle cx="547.5" cy="130.4" r="2.5" fill="#c8b4a0" fill-opacity="0.45" stroke="#5e4a40" stroke-opacity="0.62" stroke-width="1"/>
<circle cx="550.2" cy="133.1" r="2.8" fill="#c8b4a0" fill-opacity="0.45" stroke="#5e4a40" stroke-opacity="0.62" stroke-width="1"/>
<circle cx="547.0" cy="131.8" r="2.5" fill="#c8b4a0" fill-opacity="0.45" stroke="#5e4a40" stroke-opacity="0.62" stroke-width="1"/>
<circle cx="548.5" cy="140.6" r="1.7" fill="#c8b4a0" fill-opacity="0.45" stroke="#5e4a40" stroke-opacity="0.62" stroke-width="1"/>
<circle cx="552.3" cy="142.5" r="2.4" fill="#c8b4a0" fill-opacity="0.45" stroke="#5e4a40" stroke-opacity="0.62" stroke-width="1"/>
<circle cx="553.2" cy="151.5" r="2.8" fill="#c8b4a0" fill-opacity="0.45" stroke="#5e4a40" stroke-opacity="0.62" stroke-width="1"/>
<circle cx="555.4" cy="158.0" r="2.4" fill="#c8b4a0" fill-opacity="0.45" stroke="#5e4a40" stroke-opacity="0.62" stroke-width="1"/>
<circle cx="555.0" cy="156.7" r="2.0" fill="#c8b4a0" fill-opacity="0.45" stroke="#5e4a40" stroke-opacity="0.62" stroke-width="1"/>
<circle cx="556.9" cy="156.1" r="1.7" fill="#c8b4a0" fill-opacity="0.45" stroke="#5e4a40" stroke-opacity="0.62" stroke-width="1"/>
<circle cx="560.5" cy="140.9" r="2.3" fill="#c8b4a0" fill-opacity="0.45" stroke="#5e4a40" stroke-opacity="0.62" stroke-width="1"/>
<circle cx="560.8" cy="143.2" r="1.9" fill="#c8b4a0" fill-opacity="0.45" stroke="#5e4a40" stroke-opacity="0.62" stroke-width="1"/>
<circle cx="562.2" cy="147.6" r="2.0" fill="#c8b4a0" fill-opacity="0.45" stroke="#5e4a40" stroke-opacity="0.62" stroke-width="1"/>
<circle cx="562.9" cy="148.2" r="2.0" fill="#c8b4a0" fill-opacity="0.45" stroke="#5e4a40" stroke-opacity="0.62" stroke-width="1"/>
<circle cx="574.0" cy="126.2" r="1.7" fill="#c8b4a0" fill-opacity="0.45" stroke="#5e4a40" stroke-opacity="0.62" stroke-width="1"/>
<circle cx="570.6" cy="129.5" r="2.5" fill="#c8b4a0" fill-opacity="0.45" stroke="#5e4a40" stroke-opacity="0.62" stroke-width="1"/>
<circle cx="573.2" cy="134.9" r="2.2" fill="#c8b4a0" fill-opacity="0.45" stroke="#5e4a40" stroke-opacity="0.62" stroke-width="1"/>
<circle cx="579.2" cy="128.1" r="2.9" fill="#c8b4a0" fill-opacity="0.45" stroke="#5e4a40" stroke-opacity="0.62" stroke-width="1"/>
<circle cx="593.0" cy="119.5" r="2.0" fill="#c8b4a0" fill-opacity="0.45" stroke="#5e4a40" stroke-opacity="0.62" stroke-width="1"/>
<circle cx="593.1" cy="123.3" r="2.2" fill="#c8b4a0" fill-opacity="0.45" stroke="#5e4a40" stroke-opacity="0.62" stroke-width="1"/>
<circle cx="592.9" cy="122.5" r="2.7" fill="#c8b4a0" fill-opacity="0.45" stroke="#5e4a40" stroke-opacity="0.62" stroke-width="1"/>
<circle cx="589.2" cy="150.8" r="1.8" fill="#c8b4a0" fill-opacity="0.45" stroke="#5e4a40" stroke-opacity="0.62" stroke-width="1"/>
<circle cx="599.3" cy="149.2" r="1.6" fill="#c8b4a0" fill-opacity="0.45" stroke="#5e4a40" stroke-opacity="0.62" stroke-width="1"/>
<circle cx="594.7" cy="148.4" r="2.7" fill="#c8b4a0" fill-opacity="0.45" stroke="#5e4a40" stroke-opacity="0.62" stroke-width="1"/>
<circle cx="585.5" cy="155.3" r="3.0" fill="#c8b4a0" fill-opacity="0.45" stroke="#5e4a40" stroke-opacity="0.62" stroke-width="1"/>
<circle cx="586.2" cy="155.9" r="1.7" fill="#c8b4a0" fill-opacity="0.45" stroke="#5e4a40" stroke-opacity="0.62" stroke-width="1"/>
<circle cx="593.2" cy="166.6" r="1.8" fill="#c8b4a0" fill-opacity="0.45" stroke="#5e4a40" stroke-opacity="0.62" stroke-width="1"/>
<circle cx="557.4" cy="166.5" r="3.0" fill="#c8b4a0" fill-opacity="0.45" stroke="#5e4a40" stroke-opacity="0.62" stroke-width="1"/>
<circle cx="564.8" cy="166.0" r="2.2" fill="#c8b4a0" fill-opacity="0.45" stroke="#5e4a40" stroke-opacity="0.62" stroke-width="1"/>
<circle cx="567.7" cy="169.6" r="2.2" fill="#c8b4a0" fill-opacity="0.45" stroke="#5e4a40" stroke-opacity="0.62" stroke-width="1"/>
<circle cx="565.5" cy="170.5" r="1.9" fill="#c8b4a0" fill-opacity="0.45" stroke="#5e4a40" stroke-opacity="0.62" stroke-width="1"/>
<circle cx="569.8" cy="172.5" r="2.3" fill="#c8b4a0" fill-opacity="0.45" stroke="#5e4a40" stroke-opacity="0.62" stroke-width="1"/>
<circle cx="572.8" cy="160.2" r="1.9" fill="#c8b4a0" fill-opacity="0.45" stroke="#5e4a40" stroke-opacity="0.62" stroke-width="1"/>
<circle cx="525.9" cy="172.2" r="1.7" fill="#c8b4a0" fill-opacity="0.45" stroke="#5e4a40" stroke-opacity="0.62" stroke-width="1"/>
<circle cx="530.6" cy="178.6" r="2.2" fill="#c8b4a0" fill-opacity="0.45" stroke="#5e4a40" stroke-opacity="0.62" stroke-width="1"/>
<circle cx="532.3" cy="176.9" r="2.7" fill="#c8b4a0" fill-opacity="0.45" stroke="#5e4a40" stroke-opacity="0.62" stroke-width="1"/>
<circle cx="531.5" cy="176.1" r="1.7" fill="#c8b4a0" fill-opacity="0.45" stroke="#5e4a40" stroke-opacity="0.62" stroke-width="1"/>
<circle cx="521.8" cy="182.3" r="2.9" fill="#c8b4a0" fill-opacity="0.45" stroke="#5e4a40" stroke-opacity="0.62" stroke-width="1"/>
<circle cx="556.1" cy="179.7" r="2.5" fill="#c8b4a0" fill-opacity="0.45" stroke="#5e4a40" stroke-opacity="0.62" stroke-width="1"/>
<circle cx="556.9" cy="178.3" r="2.5" fill="#c8b4a0" fill-opacity="0.45" stroke="#5e4a40" stroke-opacity="0.62" stroke-width="1"/>
<circle cx="558.3" cy="182.4" r="2.9" fill="#c8b4a0" fill-opacity="0.45" stroke="#5e4a40" stroke-opacity="0.62" stroke-width="1"/>
<circle cx="557.4" cy="182.6" r="2.9" fill="#c8b4a0" fill-opacity="0.45" stroke="#5e4a40" stroke-opacity="0.62" stroke-width="1"/>
<circle cx="560.3" cy="178.0" r="2.9" fill="#c8b4a0" fill-opacity="0.45" stroke="#5e4a40" stroke-opacity="0.62" stroke-width="1"/>
<circle cx="563.9" cy="186.3" r="1.7" fill="#c8b4a0" fill-opacity="0.45" stroke="#5e4a40" stroke-opacity="0.62" stroke-width="1"/>
<circle cx="535.2" cy="192.1" r="2.6" fill="#c8b4a0" fill-opacity="0.45" stroke="#5e4a40" stroke-opacity="0.62" stroke-width="1"/>
<circle cx="556.0" cy="188.2" r="2.9" fill="#c8b4a0" fill-opacity="0.45" stroke="#5e4a40" stroke-opacity="0.62" stroke-width="1"/>
<circle cx="555.0" cy="192.6" r="1.8" fill="#c8b4a0" fill-opacity="0.45" stroke="#5e4a40" stroke-opacity="0.62" stroke-width="1"/>
<circle cx="558.9" cy="192.1" r="2.8" fill="#c8b4a0" fill-opacity="0.45" stroke="#5e4a40" stroke-opacity="0.62" stroke-width="1"/>
<circle cx="578.0" cy="180.9" r="2.5" fill="#c8b4a0" fill-opacity="0.45" stroke="#5e4a40" stroke-opacity="0.62" stroke-width="1"/>
<circle cx="575.3" cy="184.3" r="2.7" fill="#c8b4a0" fill-opacity="0.45" stroke="#5e4a40" stroke-opacity="0.62" stroke-width="1"/>
<circle cx="590.9" cy="182.1" r="1.6" fill="#c8b4a0" fill-opacity="0.45" stroke="#5e4a40" stroke-opacity="0.62" stroke-width="1"/>
<circle cx="591.2" cy="184.4" r="2.8" fill="#c8b4a0" fill-opacity="0.45" stroke="#5e4a40" stroke-opacity="0.62" stroke-width="1"/>
<circle cx="593.1" cy="190.0" r="2.7" fill="#c8b4a0" fill-opacity="0.45" stroke="#5e4a40" stroke-opacity="0.62" stroke-width="1"/>
<circle cx="595.0" cy="188.2" r="2.8" fill="#c8b4a0" fill-opacity="0.45" stroke="#5e4a40" stroke-opacity="0.62" stroke-width="1"/>
<circle cx="509.5" cy="198.2" r="2.1" fill="#c8b4a0" fill-opacity="0.45" stroke="#5e4a40" stroke-opacity="0.62" stroke-width="1"/>
<circle cx="513.0" cy="197.0" r="1.9" fill="#c8b4a0" fill-opacity="0.45" stroke="#5e4a40" stroke-opacity="0.62" stroke-width="1"/>
<circle cx="511.5" cy="200.3" r="1.7" fill="#c8b4a0" fill-opacity="0.45" stroke="#5e4a40" stroke-opacity="0.62" stroke-width="1"/>
</g></g>
<text x="414.4" y="41.9" font-family='"Liberation Sans", sans-serif' font-size="9.6" font-weight="bold" text-anchor="start" fill="#000" textLength="16" lengthAdjust="spacingAndGlyphs">Veh</text>
<text x="513" y="42.2" font-family='"Liberation Sans", sans-serif' font-size="9.6" font-weight="bold" text-anchor="start" fill="#000" textLength="33.5" lengthAdjust="spacingAndGlyphs">1,25-VD</text>
<text x="420" y="126.3" font-family='"Liberation Sans", sans-serif' font-size="9.9" font-weight="bold" text-anchor="start" fill="#000" textLength="16" lengthAdjust="spacingAndGlyphs">BCG</text>
<text x="513.7" y="125.1" font-family='"Liberation Sans", sans-serif' font-size="9.7" font-weight="bold" text-anchor="start" fill="#000" textLength="56" lengthAdjust="spacingAndGlyphs">BCG+1,25-VD</text></svg>
</body></html>
